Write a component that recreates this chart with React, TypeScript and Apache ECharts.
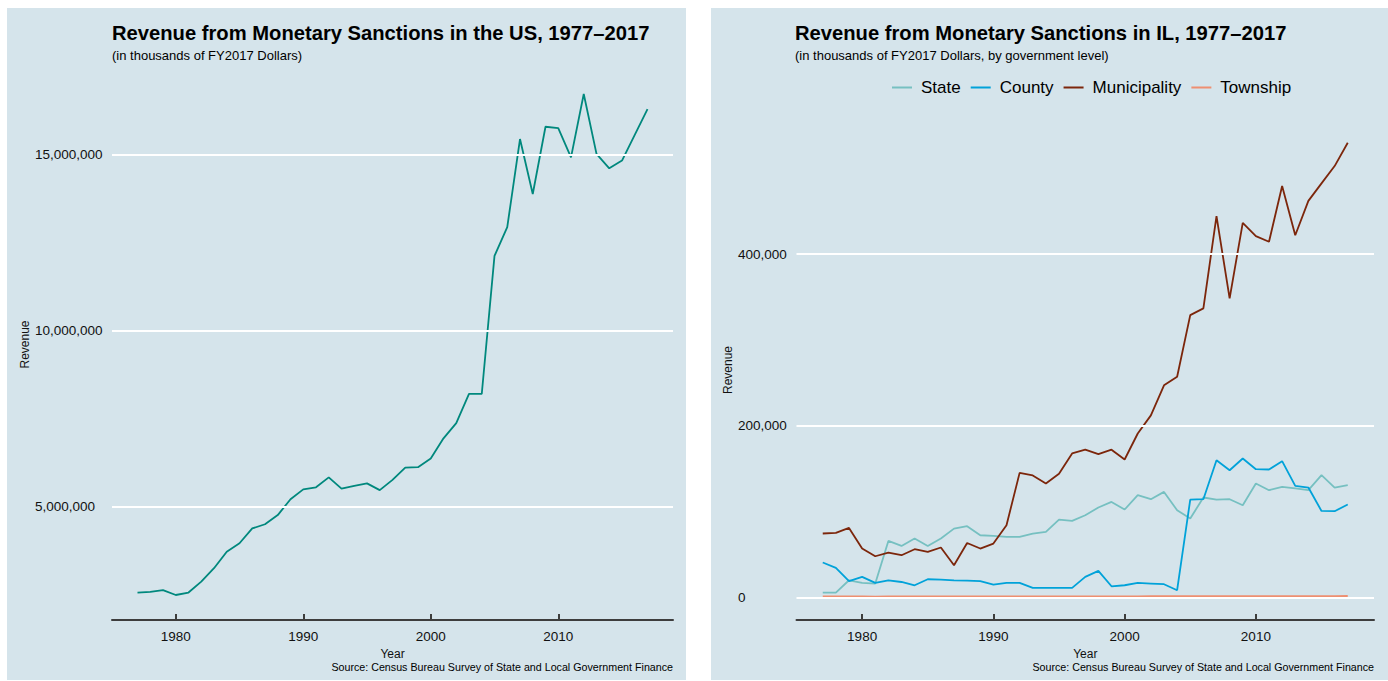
import React, { useEffect, useRef } from "react";
import * as echarts from "echarts";

const years = [
  1977, 1978, 1979, 1980, 1981, 1982, 1983, 1984, 1985, 1986,
  1987, 1988, 1989, 1990, 1991, 1992, 1993, 1994, 1995, 1996,
  1997, 1998, 1999, 2000, 2001, 2002, 2003, 2004, 2005, 2006,
  2007, 2008, 2009, 2010, 2011, 2012, 2013, 2014, 2015, 2016, 2017,
];

const usRevenue = [
  2570000, 2590000, 2640000, 2500000, 2570000, 2880000, 3260000, 3730000, 3970000, 4390000,
  4510000, 4770000, 5220000, 5500000, 5560000, 5840000, 5520000, 5600000, 5670000, 5480000,
  5770000, 6120000, 6130000, 6380000, 6950000, 7380000, 8210000, 8210000, 12130000, 12950000,
  15450000, 13890000, 15800000, 15760000, 14930000, 16730000, 15030000, 14620000, 14840000, 15570000, 16300000,
];

const ilState = [
  5500, 5500, 19800, 16700, 16000, 65700, 59800, 68400, 59800, 68400,
  80000, 82800, 72300, 71500, 70300, 70300, 74300, 76200, 90600, 89000,
  95600, 104600, 111100, 102300, 119000, 114300, 122800, 101500, 91800, 116300,
  113900, 114300, 107300, 132600, 124800, 128600, 126800, 124800, 142300, 127900, 130600,
];

const ilCounty = [
  40500, 34200, 18700, 23700, 16700, 19800, 17800, 14000, 21000, 20600,
  19800, 19400, 18700, 14800, 16700, 16700, 10900, 10900, 10900, 10900,
  23700, 30700, 12800, 14000, 16700, 16000, 15200, 8200, 113900, 114300,
  159800, 148100, 161700, 149300, 148900, 158600, 129800, 127900, 100600, 100300, 108100,
];

const ilMunicipality = [
  74300, 75000, 80800, 56800, 47800, 52000, 49000, 56000, 52900, 58000,
  37300, 63300, 56800, 62600, 84000, 145000, 142000, 132600, 144000, 167600,
  172000, 166800, 172000, 160600, 190900, 212000, 247000, 257000, 328900, 336700,
  444300, 348300, 436500, 421000, 414400, 479300, 422000, 462000, 482400, 502600, 529800,
];

const ilTownship = [
  900, 900, 950, 900, 850, 900, 900, 950, 900, 900,
  900, 950, 950, 900, 950, 1000, 1000, 1000, 1050, 1050,
  1100, 1100, 1100, 1150, 1150, 1200, 1200, 1200, 1250, 1250,
  1300, 1300, 1300, 1350, 1350, 1350, 1400, 1400, 1400, 1400, 1450,
];

const xTicks = [1980, 1990, 2000, 2010];
const usYTicks = [5000000, 10000000, 15000000];
const ilYTicks = [0, 200000, 400000];
const ilSeriesNames = ["State", "County", "Municipality", "Township"];
const ilColors = ["#76c0c1", "#01a2d9", "#7c260b", "#ee8f71"];
const ilValues = [ilState, ilCounty, ilMunicipality, ilTownship];

const FONT = "'Liberation Sans', Arial, Helvetica, sans-serif";
const BG = "#d5e4eb";
const AXIS = "#3d3d3d";
const TXT = "#111";

const fmt = (v: number) => Math.round(v).toLocaleString("en-US");
const pairs = (vals: number[]) => years.map((y, i) => [y, vals[i]]);

function xAxisFor(gridIndex: number) {
  return {
    type: "value",
    gridIndex,
    min: 1975,
    max: 2019,
    name: "Year",
    nameLocation: "middle",
    nameGap: 22,
    nameTextStyle: { fontSize: 12, color: TXT, fontFamily: FONT },
    axisLine: { show: true, onZero: false, lineStyle: { color: AXIS, width: 2 } },
    axisTick: { show: true, inside: true, length: 6, customValues: xTicks, lineStyle: { color: AXIS, width: 2 } },
    axisLabel: { customValues: xTicks, fontSize: 13.5, color: TXT, margin: 9, fontFamily: FONT, formatter: (v: number) => String(v) },
    splitLine: { show: false },
  };
}

function yAxisFor(gridIndex: number, min: number, max: number, ticks: number[], margin: number, nameGap: number) {
  return {
    type: "value",
    gridIndex,
    min,
    max,
    name: "Revenue",
    nameLocation: "middle",
    nameGap,
    nameRotate: 90,
    nameTextStyle: { fontSize: 12, color: TXT, fontFamily: FONT },
    axisLine: { show: false },
    axisTick: { show: false },
    splitLine: { show: false },
    axisLabel: { customValues: ticks, align: "left", margin, fontSize: 13.5, color: TXT, fontFamily: FONT, formatter: (v: number) => fmt(v) },
  };
}

function gridSeries(idx: number, ticks: number[]) {
  return {
    type: "line",
    name: "grid" + idx,
    xAxisIndex: idx,
    yAxisIndex: idx,
    data: [],
    z: 1,
    silent: true,
    markLine: {
      silent: true,
      symbol: ["none", "none"],
      label: { show: false },
      lineStyle: { color: "#ffffff", width: 2, type: "solid" },
      data: ticks.map((t) => ({ yAxis: t })),
    },
  };
}

export default function App() {
  const ref = useRef<HTMLDivElement>(null);
  useEffect(() => {
    if (!ref.current) return;
    const chart = echarts.init(ref.current, undefined, { renderer: "svg" });
    const titleStyle = { fontSize: 20.2, fontWeight: "bold", color: "#000", fontFamily: FONT };
    const subStyle = { fontSize: 13, fontWeight: "normal", color: "#000", fontFamily: FONT };
    const srcStyle = { fontSize: 10.7, fontWeight: "normal", color: "#000", fontFamily: FONT };
    const option: any = {
      animation: false,
      backgroundColor: "transparent",
      textStyle: { fontFamily: FONT },
      title: [
        { text: "Revenue from Monetary Sanctions in the US, 1977–2017", left: 112, top: 23, padding: 0, textStyle: titleStyle },
        { text: "(in thousands of FY2017 Dollars)", left: 112, top: 49, padding: 0, textStyle: subStyle },
        { text: "Revenue from Monetary Sanctions in IL, 1977–2017", left: 795, top: 23, padding: 0, textStyle: titleStyle },
        { text: "(in thousands of FY2017 Dollars, by government level)", left: 795, top: 49, padding: 0, textStyle: subStyle },
        { text: "Source: Census Bureau Survey of State and Local Government Finance", right: 715, top: 661, padding: 0, textStyle: srcStyle },
        { text: "Source: Census Bureau Survey of State and Local Government Finance", right: 14, top: 661, padding: 0, textStyle: srcStyle },
      ],
      legend: {
        data: ilSeriesNames,
        left: 892,
        top: 79,
        padding: 0,
        icon: "rect",
        itemWidth: 20,
        itemHeight: 2,
        itemGap: 10,
        textStyle: { fontSize: 17, color: "#000", fontFamily: FONT, padding: [0, 0, 0, 4] },
      },
      grid: [
        { left: 112, right: 715, top: 69, bottom: 61 },
        { left: 796.5, right: 14, top: 120, bottom: 61 },
      ],
      xAxis: [xAxisFor(0), xAxisFor(1)],
      yAxis: [
        yAxisFor(0, 1790000, 17440000, usYTicks, 77, 78),
        yAxisFor(1, -26500, 556300, ilYTicks, 58.5, 62),
      ],
      series: [
        gridSeries(0, usYTicks),
        gridSeries(1, ilYTicks),
        {
          type: "line",
          name: "US",
          xAxisIndex: 0,
          yAxisIndex: 0,
          data: pairs(usRevenue),
          showSymbol: false,
          z: 3,
          lineStyle: { color: "#00887d", width: 1.8 },
          itemStyle: { color: "#00887d" },
        },
        ...ilSeriesNames.map((n, i) => ({
          type: "line",
          name: n,
          xAxisIndex: 1,
          yAxisIndex: 1,
          data: pairs(ilValues[i]),
          showSymbol: false,
          z: 3,
          lineStyle: { color: ilColors[i], width: 1.8 },
          itemStyle: { color: ilColors[i] },
        })),
      ],
    };
    chart.setOption(option);
    return () => chart.dispose();
  }, []);

  return (
    <div style={{ position: "fixed", left: 0, top: 0, width: 1388, height: 681, background: "#fff" }}>
      <div style={{ position: "absolute", left: 7, top: 8, width: 679, height: 672, background: BG }} />
      <div style={{ position: "absolute", left: 711, top: 8, width: 677, height: 672, background: BG }} />
      <div ref={ref} style={{ position: "absolute", left: 0, top: 0, width: 1388, height: 681 }} />
    </div>
  );
}
